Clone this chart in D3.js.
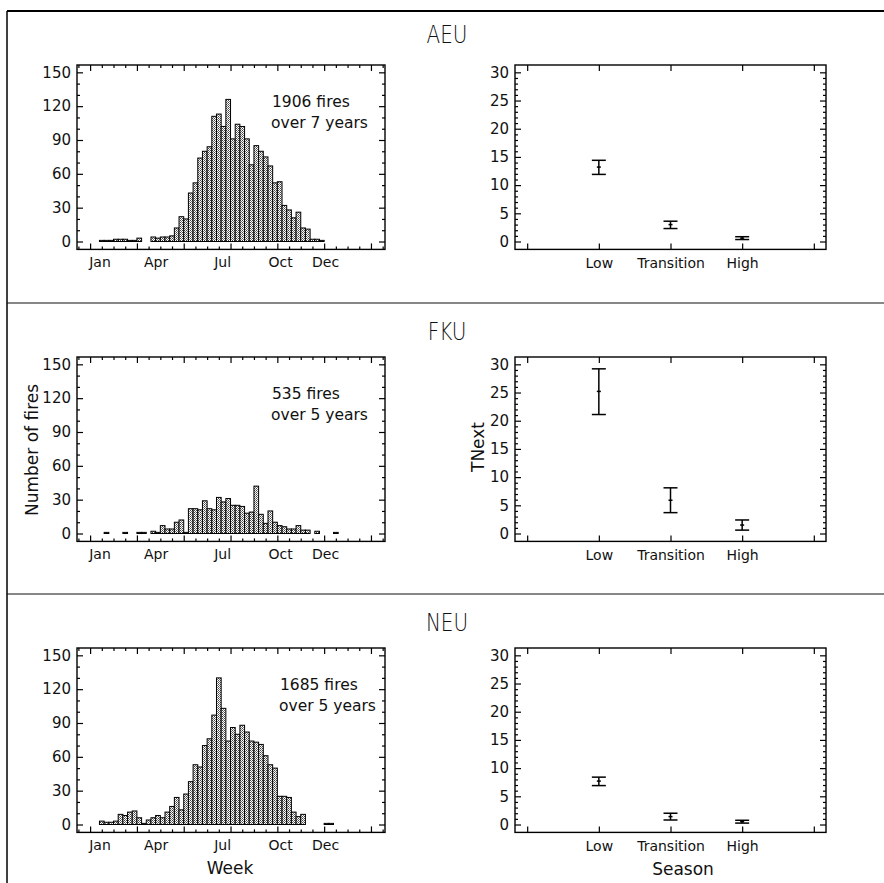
<!DOCTYPE html>
<html><head><meta charset="utf-8">
<script src="https://cdn.jsdelivr.net/npm/d3@7"></script>
<style>
body{margin:0;background:#fff}
svg{display:block}
text{font-family:"DejaVu Sans",sans-serif;fill:#111}
</style>
</head><body><svg id="c" width="884" height="883"></svg>
<script>
// ---------------- data ----------------
const regions = ["AEU", "FKU", "NEU"];
const fireNotes = [["1906 fires", "over 7 years"], ["535 fires", "over 5 years"], ["1685 fires", "over 5 years"]];
const aeuCounts = [1,1,1,2,2,2,1,1,3,0,0,4,3,4,4,5,12,22,20,43,52,74,80,84,111,113,102,126,91,104,102,91,68,85,80,75,67,52,53,32,28,21,26,12,11,2,2,1,0,0,0,0];
const fkuCounts = [0,1,0,0,0,1,0,0,1,1,0,2,1,7,4,4,10,12,1,22,22,21,29,22,21,32,28,31,25,25,24,18,19,42,17,9,20,10,7,6,4,4,7,3,3,0,2,0,0,0,1,0];
const neuCounts = [3,2,2,3,9,8,11,12,6,1,4,6,8,6,11,16,24,13,27,38,53,51,70,76,97,130,103,74,86,80,88,82,74,73,71,61,53,50,25,25,24,11,7,9,0,0,0,0,1,1,0,0];
const weekCounts = [aeuCounts, fkuCounts, neuCounts];
const monthLabels = ["Jan", "Apr", "Jul", "Oct", "Dec"];
const monthPos = [0, 12, 26.2, 38.6, 48.2];
const weekMajorTicks = [-2, 8, 18, 28, 38, 48, 58];
const weekMinorTicks = [-4.5, 0.5, 3, 5.5, 10.5, 13, 15.5, 20.5, 23, 25.5, 30.5, 33, 35.5, 40.5, 43, 45.5, 50.5, 53, 55.5, 60.5];
const countTicks = [0, 30, 60, 90, 120, 150];
const countMinor = [10, 20, 40, 50, 70, 80, 100, 110, 130, 140];
const seasons = ["Low", "Transition", "High"];
const seasonPos = [1, 2, 3];
const seasonTicks = [0, 1, 2, 3, 4];
const tnextMean = [[13.2, 3.0, 0.6], [25.2, 5.9, 1.5], [7.7, 1.4, 0.5]];
const tnextLow  = [[11.9, 2.3, 0.35], [21.1, 3.7, 0.6], [6.9, 0.8, 0.25]];
const tnextHigh = [[14.4, 3.6, 0.85], [29.2, 8.1, 2.4], [8.4, 2.0, 0.75]];
const tnextTicks = [0, 5, 10, 15, 20, 25, 30];
const tnextMinor = d3.range(0, 31).filter(v => v % 5 !== 0);

// ---------------- layout ----------------
const svg = d3.select("#c");
const panelTops = [11, 303, 594];
const titleY = [43, 340, 631];

const defs = svg.append("defs");
const pat = defs.append("pattern").attr("id", "dots").attr("width", 2).attr("height", 2)
  .attr("patternUnits", "userSpaceOnUse");
pat.append("rect").attr("width", 2).attr("height", 2).attr("fill", "#fff");
pat.append("rect").attr("width", 1).attr("height", 1).attr("fill", "#444");
pat.append("rect").attr("x", 1).attr("y", 1).attr("width", 1).attr("height", 1).attr("fill", "#777");

// frame lines
svg.append("line").attr("x1", 7).attr("x2", 884).attr("y1", 11).attr("y2", 11).attr("stroke", "#000").attr("stroke-width", 2);
svg.append("line").attr("x1", 7).attr("x2", 7).attr("y1", 11).attr("y2", 883).attr("stroke", "#000").attr("stroke-width", 1.5);
[303, 594].forEach(y => svg.append("line").attr("x1", 7).attr("x2", 884).attr("y1", y).attr("y2", y).attr("stroke", "#111").attr("stroke-width", 1.2));

const histX = d3.scaleLinear().domain([-4.8, 61]).range([77, 385]);
const rightX = d3.scaleLinear().domain([-0.17, 4.17]).range([515, 826]);

function frameAxes(g, x, y, majX, minX, majY, minY) {
  const [x0, x1] = x.range(), [y0, y1] = y.range();
  const tick = (sel) => sel.call(s => s.select(".domain").remove()).selectAll("text").remove();
  g.append("g").attr("transform", `translate(0,${y0})`).call(d3.axisTop(x).tickValues(majX).tickSize(6)).call(tick);
  g.append("g").attr("transform", `translate(0,${y1})`).call(d3.axisBottom(x).tickValues(majX).tickSize(6)).call(tick);
  g.append("g").attr("transform", `translate(${x0},0)`).call(d3.axisRight(y).tickValues(majY).tickSize(6)).call(tick);
  g.append("g").attr("transform", `translate(${x1},0)`).call(d3.axisLeft(y).tickValues(majY).tickSize(6)).call(tick);
  if (minX) {
    g.append("g").attr("transform", `translate(0,${y0})`).call(d3.axisTop(x).tickValues(minX).tickSize(3)).call(tick);
    g.append("g").attr("transform", `translate(0,${y1})`).call(d3.axisBottom(x).tickValues(minX).tickSize(3)).call(tick);
  }
  g.append("g").attr("transform", `translate(${x0},0)`).call(d3.axisRight(y).tickValues(minY).tickSize(3)).call(tick);
  g.append("g").attr("transform", `translate(${x1},0)`).call(d3.axisLeft(y).tickValues(minY).tickSize(3)).call(tick);
  g.selectAll(".tick line").attr("stroke", "#000").attr("stroke-width", 1.2);
  g.append("rect").attr("x", x0).attr("y", y1).attr("width", x1 - x0).attr("height", y0 - y1)
    .attr("fill", "none").attr("stroke", "#000").attr("stroke-width", 1.4);
}

regions.forEach((name, p) => {
  const top = panelTops[p];
  const g = svg.append("g");
  g.append("text").attr("transform", `translate(447,${titleY[p]}) scale(0.8,1)`).attr("text-anchor", "middle")
    .attr("font-size", 25).attr("font-weight", 200).text(name);

  // ----- histogram -----
  const y = d3.scaleLinear().domain([-7, 156.5]).range([top + 238.4, top + 54]);
  const counts = weekCounts[p];
  const bars = counts.map((v, i) => ({w: i + 1, v})).filter(d => d.v > 0);
  g.append("g").selectAll("rect").data(bars).join("rect")
    .attr("x", d => histX(d.w - 1)).attr("width", d => histX(d.w) - histX(d.w - 1))
    .attr("y", d => y(d.v)).attr("height", d => y(0) - y(d.v))
    .attr("fill", "url(#dots)").attr("stroke", "#000").attr("stroke-width", 1);
  frameAxes(g, histX, y, weekMajorTicks, weekMinorTicks, countTicks, countMinor);
  g.append("g").attr("transform", `translate(${histX.range()[0]},0)`)
    .call(d3.axisLeft(y).tickValues(countTicks).tickSize(0).tickPadding(6))
    .call(s => s.select(".domain").remove())
    .selectAll("text").attr("font-size", 15).attr("font-family", "DejaVu Sans").attr("fill", "#111");
  g.append("g").attr("transform", `translate(0,${top + 238.4})`)
    .call(d3.axisBottom(histX).tickValues(monthPos).tickFormat((d, i) => monthLabels[i]).tickSize(0).tickPadding(8))
    .call(s => s.select(".domain").remove())
    .selectAll("text").attr("font-size", 14).attr("font-family", "DejaVu Sans").attr("fill", "#111");
  const nx = p === 2 ? 280 : 272;
  const note = g.append("text").attr("font-size", 15.5);
  note.append("tspan").attr("x", nx).attr("y", top + 96).text(fireNotes[p][0]);
  note.append("tspan").attr("x", nx - 1).attr("y", top + 117).text(fireNotes[p][1]);

  // ----- TNext panel -----
  const yr = d3.scaleLinear().domain([-1.4, 31.3]).range([top + 238.4, top + 54]);
  frameAxes(g, rightX, yr, seasonTicks, null, tnextTicks, tnextMinor);
  g.append("g").attr("transform", `translate(${rightX.range()[0]},0)`)
    .call(d3.axisLeft(yr).tickValues(tnextTicks).tickSize(0).tickPadding(6))
    .call(s => s.select(".domain").remove())
    .selectAll("text").attr("font-size", 15).attr("font-family", "DejaVu Sans").attr("fill", "#111");
  g.append("g").attr("transform", `translate(0,${top + 238.4})`)
    .call(d3.axisBottom(rightX).tickValues(seasonPos).tickFormat((d, i) => seasons[i]).tickSize(0).tickPadding(9))
    .call(s => s.select(".domain").remove())
    .selectAll("text").attr("font-size", 14).attr("font-family", "DejaVu Sans").attr("fill", "#111");
  const eb = seasons.map((s, i) => ({x: seasonPos[i], m: tnextMean[p][i], lo: tnextLow[p][i], hi: tnextHigh[p][i]}));
  const ebG = g.append("g").attr("stroke", "#000").attr("stroke-width", 1.5);
  ebG.selectAll("line.v").data(eb).join("line").attr("class", "v")
    .attr("x1", d => rightX(d.x)).attr("x2", d => rightX(d.x)).attr("y1", d => yr(d.lo)).attr("y2", d => yr(d.hi));
  ebG.selectAll("line.hi").data(eb).join("line").attr("class", "hi")
    .attr("x1", d => rightX(d.x) - 7).attr("x2", d => rightX(d.x) + 7).attr("y1", d => yr(d.hi)).attr("y2", d => yr(d.hi));
  ebG.selectAll("line.lo").data(eb).join("line").attr("class", "lo")
    .attr("x1", d => rightX(d.x) - 7).attr("x2", d => rightX(d.x) + 7).attr("y1", d => yr(d.lo)).attr("y2", d => yr(d.lo));
  ebG.selectAll("line.m").data(eb).join("line").attr("class", "m")
    .attr("x1", d => rightX(d.x) - 2).attr("x2", d => rightX(d.x) + 2).attr("y1", d => yr(d.m)).attr("y2", d => yr(d.m));
});

// axis titles
svg.append("text").attr("transform", "translate(38,450) rotate(-90)").attr("text-anchor", "middle")
  .attr("font-size", 17).text("Number of fires");
svg.append("text").attr("transform", "translate(484,447) rotate(-90)").attr("text-anchor", "middle")
  .attr("font-size", 17).text("TNext");
svg.append("text").attr("x", 230).attr("y", 874).attr("text-anchor", "middle").attr("font-size", 17).text("Week");
svg.append("text").attr("x", 683).attr("y", 875).attr("text-anchor", "middle").attr("font-size", 17).text("Season");
</script>
</body></html>
